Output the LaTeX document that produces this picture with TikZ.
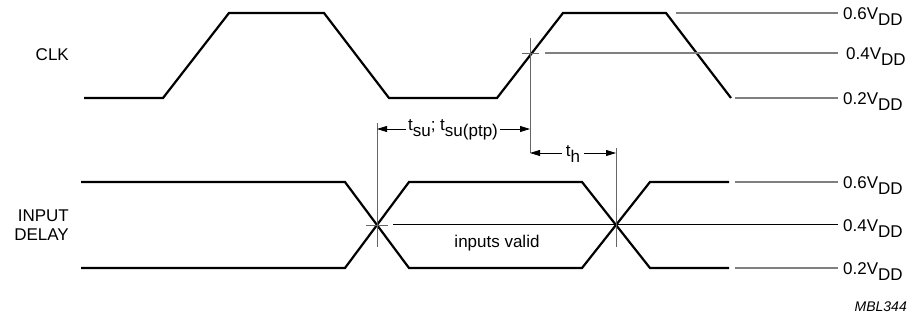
\documentclass[tikz,border=0pt]{standalone}
\usepackage{fontspec}
\setmainfont{Liberation Sans}
\usetikzlibrary{arrows.meta}
\newcommand{\lowtxt}[1]{\raisebox{-6pt}{#1}}
\begin{document}
\begin{tikzpicture}[x=1pt,y=-1pt,
  sig/.style={line width=2.2pt, line join=miter},
  refline/.style={line width=1.3pt, black!50},
  dimline/.style={line width=0.8pt, black!60},
  dimarrow/.style={line width=0.8pt, black, -{Triangle[length=10pt,width=6pt]}},
  lbl/.style={font=\fontsize{17}{20}\selectfont, inner sep=0pt},
  vlbl/.style={lbl, anchor=base west}]
\useasboundingbox (0,0) rectangle (911,320);

% CLK waveform
\coordinate (c0) at (84,98);
\coordinate (c1) at (163,98);
\coordinate (c2) at (229,13);
\coordinate (c3) at (324,13);
\coordinate (c4) at (389,98);
\coordinate (c5) at (497,98);
\coordinate (c6) at (563,13);
\coordinate (c7) at (666,13);
\coordinate (c8) at (731,98);
\draw[sig] (c0) -- (c1) -- (c2) -- (c3) -- (c4) -- (c5) -- (c6) -- (c7) -- (c8);

% INPUT DELAY waveform
\coordinate (a0) at (81,182);
\coordinate (a1) at (345,182);
\coordinate (a2) at (409,268);
\coordinate (a3) at (582,268);
\coordinate (a4) at (650,182);
\coordinate (a5) at (729,182);
\coordinate (b0) at (81,268);
\coordinate (b1) at (345,268);
\coordinate (b2) at (409,182);
\coordinate (b3) at (582,182);
\coordinate (b4) at (650,268);
\coordinate (b5) at (729,268);
\draw[sig] (a0) -- (a1) -- (a2) -- (a3) -- (a4) -- (a5);
\draw[sig] (b0) -- (b1) -- (b2) -- (b3) -- (b4) -- (b5);

% reference levels
\coordinate (r1s) at (676,13);  \coordinate (r1e) at (838,13);
\coordinate (r2s) at (545,53);  \coordinate (r2e) at (838,53);
\coordinate (r3s) at (735,98);  \coordinate (r3e) at (838,98);
\coordinate (r4s) at (735,182); \coordinate (r4e) at (838,182);
\coordinate (r5s) at (393,225); \coordinate (r5e) at (838,225);
\coordinate (r6s) at (735,268); \coordinate (r6e) at (838,268);
\draw[refline] (r1s) -- (r1e);
\draw[refline] (r2s) -- (r2e);
\draw[refline] (r3s) -- (r3e);
\draw[refline] (r4s) -- (r4e);
\draw[line width=1pt, black] (r5s) -- (r5e);
\draw[refline] (r6s) -- (r6e);

% ticks at crossings
\coordinate (t1s) at (522,53);  \coordinate (t1e) at (539,53);
\coordinate (t2s) at (366,225); \coordinate (t2e) at (388,225);
\draw[dimline] (t1s) -- (t1e);
\draw[dimline] (t2s) -- (t2e);

% vertical markers
\coordinate (v1t) at (530,38);  \coordinate (v1b) at (530,153);
\coordinate (v2t) at (377,123); \coordinate (v2b) at (377,247);
\coordinate (v3t) at (616,148); \coordinate (v3b) at (616,247);
\draw[dimline] (v1t) -- (v1b);
\draw[dimline] (v2t) -- (v2b);
\draw[dimline] (v3t) -- (v3b);

% timing labels
\coordinate (su1) at (377,129);
\coordinate (su2) at (530,129);
\coordinate (h1) at (530,153);
\coordinate (h2) at (616,153);
\node[lbl, inner xsep=2pt] (tsu) at (453,130) {t\lowtxt{su}; t\lowtxt{su(ptp)}};
\draw[dimarrow] (tsu.west |- su1) -- (su1);
\draw[dimarrow] (tsu.east |- su2) -- (su2);
\node[lbl, inner xsep=4pt] (th) at (573,154) {t\lowtxt{h}};
\draw[dimarrow] (th.west |- h1) -- (h1);
\draw[dimarrow] (th.east |- h2) -- (h2);

% signal names
\node[lbl, anchor=east] (clk) at (69,55) {CLK};
\node[lbl, anchor=east, align=right, font=\fontsize{17}{19}\selectfont] (inp) at (69,225) {INPUT\\DELAY};
\node[lbl] (valid) at (497,243) {inputs valid};

% level labels
\node[vlbl] (l1) at (843,20) {0.6V\lowtxt{DD}};
\node[vlbl] (l2) at (846,60) {0.4V\lowtxt{DD}};
\node[vlbl] (l3) at (843,105) {0.2V\lowtxt{DD}};
\node[vlbl] (l4) at (843,189) {0.6V\lowtxt{DD}};
\node[vlbl] (l5) at (843,232) {0.4V\lowtxt{DD}};
\node[vlbl] (l6) at (843,275) {0.2V\lowtxt{DD}};

\node[lbl, anchor=east, font=\fontsize{14}{16}\selectfont\itshape] (id) at (907,307) {MBL344};
\end{tikzpicture}
\end{document}
